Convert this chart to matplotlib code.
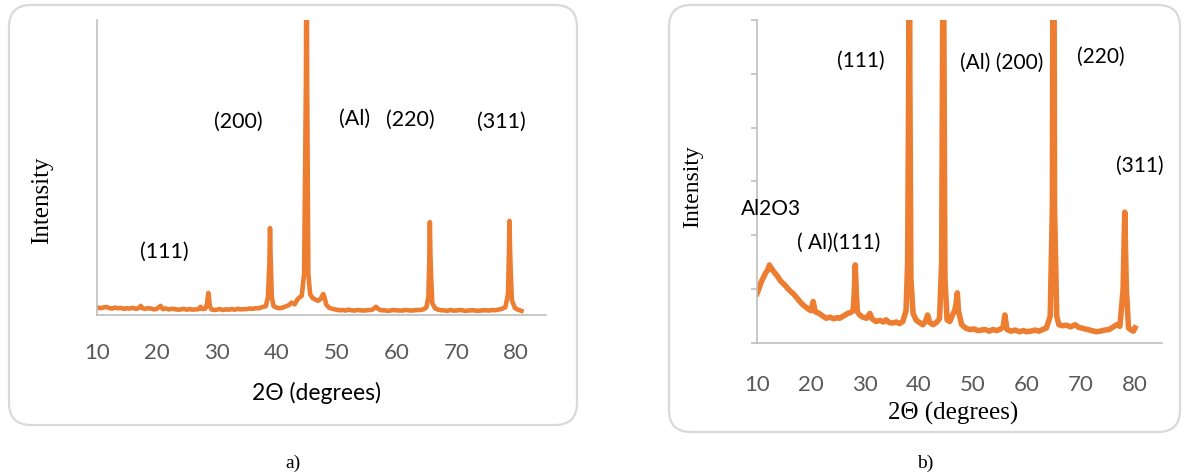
import matplotlib.pyplot as plt
from matplotlib.patches import FancyBboxPatch

ORANGE = "#ED7D31"
AXIS_GREY = "#BFBFBF"
TICK_GREY = "#595959"
BOX_GREY = "#D9D9D9"
SANS = "Lato"
SERIF = "Liberation Serif"

# --- a) pattern (arbitrary units, 0-100 on the axis)
two_theta_a = [10, 10.5, 11, 11.5, 12, 12.5, 13, 13.5, 14, 14.5, 15, 15.5, 16, 16.5,
               17, 17.3, 17.6, 18, 18.5, 19, 19.5, 20, 20.6, 21, 21.5, 22, 22.5,
               23, 23.5, 24, 24.5, 25, 25.5, 26, 26.5, 27, 27.3, 27.6, 28.1, 28.35,
               28.5, 28.6, 28.7, 28.85, 29.1, 29.5, 30, 30.5, 31, 31.5, 32, 32.5,
               33, 33.5, 34, 34.5, 35, 35.5, 36, 36.5, 37, 37.5, 38.2, 38.55, 38.8,
               38.9, 39.0, 39.2, 39.5, 40.0, 40.5, 41, 41.5, 42, 42.5, 43, 43.6,
               44.2, 44.6, 44.9, 45.0, 45.1, 45.3, 45.6, 46.0, 46.5, 46.9, 47.4,
               47.6, 47.8, 48.0, 48.3, 48.8, 49.5, 50, 50.5, 51, 51.5, 52, 52.5,
               53, 53.5, 54, 54.5, 55, 55.5, 56, 56.4, 56.6, 56.8, 57.2, 57.5, 58,
               58.5, 59, 59.5, 60, 60.5, 61, 61.5, 62, 62.5, 63, 63.5, 64, 64.5,
               65.0, 65.35, 65.5, 65.6, 65.7, 65.8, 66.0, 66.5, 67, 67.5, 68, 68.5,
               69, 69.5, 70, 70.5, 71, 71.5, 72, 72.5, 73, 73.5, 74, 74.5, 75, 75.5,
               76, 76.5, 77, 77.5, 78.2, 78.65, 78.8, 78.9, 79.0, 79.1, 79.3, 79.8,
               80.3, 80.9]
intensity_a = [2.6, 2.3, 2.5, 2.7, 2.4, 2.2, 2.5, 2.3, 2.4, 2.1, 2.3, 2.2, 2.4, 2.1,
               2.4, 3.1, 2.3, 2.1, 2.3, 2.2, 1.9, 2.1, 3.1, 2.0, 2.2, 1.9, 2.1,
               2.0, 1.8, 1.9, 2.1, 1.8, 2.0, 1.8, 1.9, 2.0, 2.8, 2.0, 2.2, 3.5,
               6.0, 7.5, 6.0, 3.0, 1.9, 1.7, 1.8, 2.0, 1.7, 1.9, 1.8, 2.0,
               1.8, 2.1, 1.9, 2.0, 2.0, 2.2, 2.1, 2.3, 2.3, 2.6, 3.0, 6.0, 18.0,
               29.5, 20.0, 6.0, 3.0, 2.5, 2.3, 2.5, 2.9, 3.3, 4.2, 3.6, 5.6,
               6.5, 14.0, 80.0, 150.0, 80.0, 14.0, 7.0, 5.8, 5.2, 4.8, 5.5,
               6.5, 7.1, 6.0, 3.5, 2.4, 2.0, 1.8, 1.6, 1.7, 1.5, 1.8, 1.6,
               1.5, 1.7, 1.6, 1.5, 1.6, 1.7, 1.8, 2.4, 2.8, 2.3, 1.8, 1.6, 1.6,
               1.4, 1.5, 1.7, 1.6, 1.5, 1.5, 1.7, 1.6, 1.5, 1.6, 1.7, 1.7, 1.9,
               2.5, 6.0, 18.0, 31.5, 20.0, 14.0, 4.0, 2.2, 1.8, 1.6, 1.6, 1.4,
               1.7, 1.5, 1.5, 1.7, 1.6, 1.4, 1.5, 1.6, 1.6, 1.4, 1.5, 1.6, 1.6, 1.5,
               1.7, 1.6, 1.8, 2.0, 2.6, 7.0, 20.0, 31.9, 22.0, 15.0, 5.0, 2.4,
               1.8, 1.4]
labels_a = ["(111)", "(200)", "(Al)", "(220)", "(311)"]
label_x_a = [21.2, 33.6, 53.1, 62.4, 77.5]
label_y_a = [21.4, 65.4, 66.4, 66.1, 65.4]

# --- b) pattern (one axis tick = one unit, 0-6)
two_theta_b = [10, 10.4, 10.8, 11.2, 11.6, 12.0, 12.3, 12.7, 13.3, 13.8, 14.3, 14.8,
               15.3, 15.8, 16.3, 16.7, 17.2, 17.7, 18.1, 18.5, 19.0, 19.5, 20.0,
               20.4, 20.8, 21.5, 22.2, 22.8, 23.5, 24.2, 24.8, 25.3, 26.0, 26.8,
               27.4, 27.8, 28.0, 28.2, 28.4, 28.6, 29.0, 29.6, 30.3, 30.9, 31.3,
               32, 32.8, 33.4, 33.9, 34.5, 35.1, 35.8, 36.4, 37, 37.6, 37.9, 38.1,
               38.2, 38.3, 38.5, 38.9, 39.5, 40.1, 40.7, 41.2, 41.6, 42.0, 42.6,
               43.2, 43.8, 44.2, 44.4, 44.5, 44.6, 44.8, 45.2, 45.7, 46.2, 46.6,
               46.9, 47.1, 47.3, 47.9, 48.6, 49.4, 50.2, 50.9, 51.5, 52.2, 53.0,
               53.7, 54.4, 55.1, 55.6, 55.9, 56.3, 57.0, 57.8, 58.6, 59.3, 59.9,
               60.7, 61.5, 62.2, 62.9, 63.6, 64.3, 64.7, 64.9, 65.1, 65.5, 65.9,
               66.6, 67.3, 68.1, 68.9, 69.6, 70.4, 71.2, 72.0, 72.8, 73.6, 74.4,
               75.2, 76.0, 76.6, 77.2, 77.8, 78.1, 78.4, 78.8, 79.3, 79.7, 80.0]
intensity_b = [0.92, 1.02, 1.14, 1.22, 1.30, 1.36, 1.45, 1.38, 1.30, 1.24, 1.16, 1.11,
               1.06, 1.00, 0.95, 0.92, 0.86, 0.80, 0.75, 0.71, 0.67, 0.63, 0.60,
               0.77, 0.58, 0.55, 0.50, 0.46, 0.48, 0.45, 0.47, 0.46, 0.50, 0.55,
               0.57, 0.60, 0.9, 1.45, 0.9, 0.58, 0.52, 0.48, 0.46, 0.55, 0.45,
               0.40, 0.42, 0.39, 0.43, 0.38, 0.37, 0.39, 0.36, 0.40, 0.60, 1.5, 5.0,
               12.0, 5.0, 1.2, 0.55, 0.42, 0.38, 0.34, 0.40, 0.52, 0.38, 0.34,
               0.38, 0.45, 1.5, 6.0, 12.0, 6.0, 1.2, 0.43, 0.40, 0.52, 0.60,
               0.75, 0.93, 0.6, 0.34, 0.28, 0.25, 0.26, 0.23, 0.24, 0.25, 0.22,
               0.25, 0.23, 0.26, 0.30, 0.52, 0.25, 0.22, 0.24, 0.21, 0.23, 0.21,
               0.22, 0.24, 0.22, 0.25, 0.28, 0.50, 2.5, 12.0, 2.5, 0.50, 0.34,
               0.32, 0.33, 0.30, 0.34, 0.29, 0.27, 0.25, 0.23, 0.21, 0.22, 0.24,
               0.25, 0.30, 0.34, 0.31, 1.0, 2.43, 1.0, 0.28, 0.24, 0.22, 0.28]
labels_b = ["(111)", "(Al) (200)", "(220)", "(311)", "Al2O3", "( Al)(111)"]
label_x_b = [29.3, 55.4, 73.7, 80.9, 12.6, 25.2]
label_y_b = [5.24, 5.20, 5.32, 3.29, 2.49, 1.86]

ticks_x = list(range(10, 90, 10))

fig = plt.figure(figsize=(11.87, 4.75), dpi=100)

# rounded frames round each chart (inches, from the bottom left corner)
for x0, y0, w, h in [(0.09, 0.50, 5.68, 4.20), (6.69, 0.43, 5.11, 4.27)]:
    box = FancyBboxPatch((x0, y0), w, h, boxstyle="round,pad=0,rounding_size=0.22",
                         transform=fig.dpi_scale_trans, facecolor="none",
                         edgecolor=BOX_GREY, lw=1.6, zorder=0)
    fig.add_artist(box)


def style_axes(ax, pad):
    for s in ["top", "right"]:
        ax.spines[s].set_visible(False)
    for s in ["left", "bottom"]:
        ax.spines[s].set_color(AXIS_GREY)
        ax.spines[s].set_linewidth(1.2)
    ax.set_facecolor("none")
    ax.set_xlim(10, 85)
    ax.set_xticks(ticks_x)
    ax.tick_params(axis="x", length=0, pad=pad, labelsize=16, labelcolor=TICK_GREY)
    for t in ax.get_xticklabels():
        t.set_fontfamily(SANS)


# a)
ax1 = fig.add_axes([97 / 1187, 160 / 475, 449 / 1187, 295 / 475])
ax1.plot(two_theta_a, intensity_a, color=ORANGE, lw=3.3, solid_joinstyle="round")
ax1.set_ylim(0, 100)
ax1.set_yticks([])
style_axes(ax1, 20)
ax1.set_xlabel("2\u0398 (degrees)", fontsize=16.5, family=SANS, va="center")
ax1.xaxis.set_label_coords(0.488, -0.264)
ax1.set_ylabel("Intensity", fontsize=18, family=SERIF, va="center")
ax1.yaxis.set_label_coords(-0.122, 0.39)
for txt, x, y in zip(labels_a, label_x_a, label_y_a):
    ax1.text(x, y, txt, fontsize=15.5, family=SANS, ha="center", va="center")

# b)
ax2 = fig.add_axes([757 / 1187, 132 / 475, 405 / 1187, 323 / 475])
ax2.plot(two_theta_b, intensity_b, color=ORANGE, lw=4.0, solid_joinstyle="round")
ax2.set_ylim(0, 6)
ax2.set_yticks(range(0, 7))
ax2.set_yticklabels([])
ax2.tick_params(axis="y", length=4.3, width=1.2, color=AXIS_GREY, direction="out")
style_axes(ax2, 23)
ax2.set_xlabel("2\u0398 (degrees)", fontsize=18, family=SERIF, va="center")
ax2.xaxis.set_label_coords(0.484, -0.217)
ax2.set_ylabel("Intensity", fontsize=17, family=SERIF, va="center")
ax2.yaxis.set_label_coords(-0.158, 0.483)
for txt, x, y in zip(labels_b, label_x_b, label_y_b):
    ax2.text(x, y, txt, fontsize=15, family=SANS, ha="center", va="center", clip_on=False)

fig.text(293 / 1187, 1 - 463 / 475, "a)", fontsize=14, family=SERIF, ha="center", va="center")
fig.text(925 / 1187, 1 - 463 / 475, "b)", fontsize=14, family=SERIF, ha="center", va="center")

fig.savefig("out.png", dpi=100)
